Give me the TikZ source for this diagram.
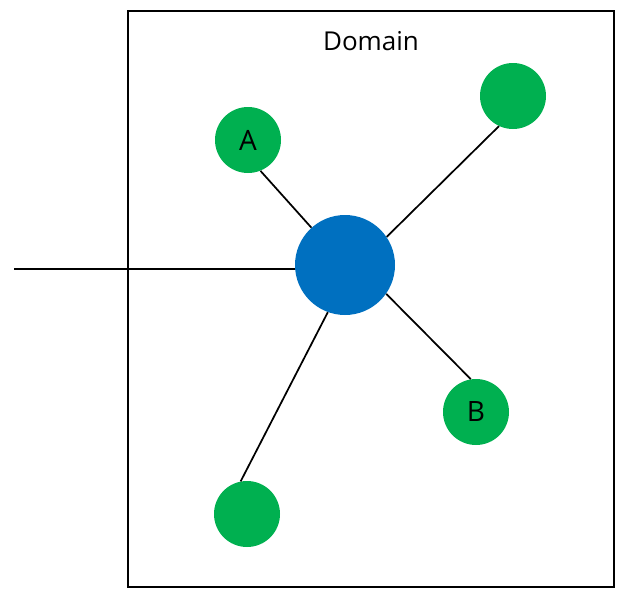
\documentclass[tikz,border=0pt]{standalone}
\usepackage{fontspec}
\setmainfont{Open Sans}
\usepackage{tikz}

\definecolor{hubblue}{HTML}{0070C0}
\definecolor{leafgreen}{HTML}{00B050}

\tikzset{
	hub/.style={circle, fill=hubblue, minimum size=75pt, inner sep=0pt},
	leaf/.style={circle, fill=leafgreen, minimum size=49.5pt, inner sep=0pt, font=\fontsize{21}{25}\selectfont},
	link/.style={line width=1.3pt}
}

\begin{document}
\begin{tikzpicture}[x=0.75pt, y=-0.75pt]
		
		\useasboundingbox (0,0) rectangle (629,603);
		
		% Domain
		\draw[link] (128,11) rectangle (614,587);
		\node[font=\fontsize{19.5}{23}\selectfont] (domain) at (371,41) {Domain};
		
		% Hub and leaves
		\node[hub] (hub) at (345,265) {};
		\node[leaf] (a) at (248,140) {A};
		\node[leaf] (ne) at (513,96) {};
		\node[leaf] (b) at (476,412) {B};
		\node[leaf] (sw) at (247,514) {};
		
		\draw[link] (a.-68) -- (hub.132);
		\draw[link] (ne.245) -- (hub.34);
		\draw[link] (b.99) -- (hub.-35);
		\draw[link] (sw.101) -- (hub.250);
		
		% Outside link
		\coordinate (w) at (14,269);
		\draw[link] (w) -- (w -| hub.west);
		
	\end{tikzpicture}
\end{document}
